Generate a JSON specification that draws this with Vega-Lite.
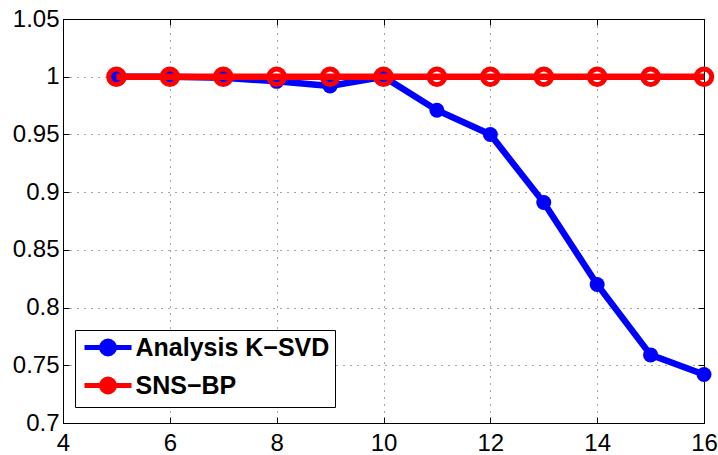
{
  "$schema": "https://vega.github.io/schema/vega-lite/v6.json",
  "width": 641,
  "height": 404,
  "autosize": {"type": "none"},
  "padding": {"left": 63, "top": 19, "right": 14, "bottom": 32},
  "background": "white",
  "config": {
    "view": {"stroke": "black", "strokeWidth": 1},
    "axis": {
      "labelFont": "Liberation Sans",
      "labelFontSize": 24,
      "labelColor": "black",
      "domainColor": "black",
      "tickColor": "black",
      "tickSize": -6,
      "gridColor": "black",
      "gridDash": [1, 6],
      "gridOpacity": 0.7,
      "gridWidth": 1
    }
  },
  "data": {
    "values": [
      {"x": 5, "y": 1.0, "series": "Analysis K−SVD"},
      {"x": 6, "y": 1.0, "series": "Analysis K−SVD"},
      {"x": 7, "y": 0.999, "series": "Analysis K−SVD"},
      {"x": 8, "y": 0.996, "series": "Analysis K−SVD"},
      {"x": 9, "y": 0.992, "series": "Analysis K−SVD"},
      {"x": 10, "y": 1.0, "series": "Analysis K−SVD"},
      {"x": 11, "y": 0.971, "series": "Analysis K−SVD"},
      {"x": 12, "y": 0.950, "series": "Analysis K−SVD"},
      {"x": 13, "y": 0.891, "series": "Analysis K−SVD"},
      {"x": 14, "y": 0.820, "series": "Analysis K−SVD"},
      {"x": 15, "y": 0.759, "series": "Analysis K−SVD"},
      {"x": 16, "y": 0.742, "series": "Analysis K−SVD"},
      {"x": 5, "y": 1.0, "series": "SNS−BP"},
      {"x": 6, "y": 1.0, "series": "SNS−BP"},
      {"x": 7, "y": 1.0, "series": "SNS−BP"},
      {"x": 8, "y": 1.0, "series": "SNS−BP"},
      {"x": 9, "y": 1.0, "series": "SNS−BP"},
      {"x": 10, "y": 1.0, "series": "SNS−BP"},
      {"x": 11, "y": 1.0, "series": "SNS−BP"},
      {"x": 12, "y": 1.0, "series": "SNS−BP"},
      {"x": 13, "y": 1.0, "series": "SNS−BP"},
      {"x": 14, "y": 1.0, "series": "SNS−BP"},
      {"x": 15, "y": 1.0, "series": "SNS−BP"},
      {"x": 16, "y": 1.0, "series": "SNS−BP"}
    ]
  },
  "encoding": {
    "x": {
      "field": "x", "type": "quantitative",
      "scale": {"domain": [4, 16], "nice": false, "zero": false},
      "axis": {"values": [4, 6, 8, 10, 12, 14, 16], "title": null, "grid": true, "labelPadding": 14, "labelFlush": false}
    },
    "y": {
      "field": "y", "type": "quantitative",
      "scale": {"domain": [0.7, 1.05], "nice": false, "zero": false},
      "axis": {"values": [0.7, 0.75, 0.8, 0.85, 0.9, 0.95, 1, 1.05], "format": "~g", "title": null, "grid": true, "labelPadding": 10, "labelFlush": false}
    },
    "color": {
      "field": "series", "type": "nominal",
      "scale": {"domain": ["Analysis K−SVD", "SNS−BP"], "range": ["#0000ff", "#ff0000"]},
      "legend": {
        "title": null,
        "orient": "none",
        "legendX": 12,
        "legendY": 311,
        "direction": "vertical",
        "strokeColor": "black",
        "fillColor": "white",
        "padding": 5,
        "labelFont": "Liberation Sans",
        "labelFontSize": 25,
        "labelFontWeight": "bold",
        "labelColor": "black",
        "labelLimit": 400,
        "labelOffset": 15,
        "rowPadding": 5,
        "symbolSize": 256,
        "symbolType": "M-2.94,0H2.94M-0.81,0A0.81,0.81 0 1,1 0.81,0A0.81,0.81 0 1,1 -0.81,0Z",
        "symbolStrokeWidth": 5,
        "symbolOffset": 15.5,
        "encoding": {
          "symbols": {
            "fill": {"condition": {"test": "datum.value === 'SNS−BP'", "value": "transparent"}, "value": "#0000ff"}
          }
        }
      }
    }
  },
  "resolve": {"axis": {"x": "independent", "y": "independent"}},
  "layer": [
    {
      "transform": [{"filter": "datum.series === 'Analysis K−SVD'"}],
      "layer": [
        {"mark": {"type": "line", "strokeWidth": 6.5}},
        {"mark": {"type": "point", "shape": "circle", "filled": true, "size": 225, "opacity": 1}}
      ]
    },
    {
      "transform": [{"filter": "datum.series === 'SNS−BP'"}],
      "layer": [
        {
          "mark": {"type": "line", "strokeWidth": 6.5},
          "encoding": {
            "x": {
              "field": "x", "type": "quantitative",
              "scale": {"domain": [4, 16], "nice": false, "zero": false},
              "axis": {"orient": "top", "values": [4, 6, 8, 10, 12, 14, 16], "title": null, "grid": false, "labels": false, "domain": false}
            },
            "y": {
              "field": "y", "type": "quantitative",
              "scale": {"domain": [0.7, 1.05], "nice": false, "zero": false},
              "axis": {"orient": "right", "values": [0.7, 0.75, 0.8, 0.85, 0.9, 0.95, 1, 1.05], "title": null, "grid": false, "labels": false, "domain": false}
            }
          }
        },
        {"mark": {"type": "point", "shape": "circle", "filled": false, "size": 240, "strokeWidth": 5, "opacity": 1}}
      ]
    }
  ]
}
